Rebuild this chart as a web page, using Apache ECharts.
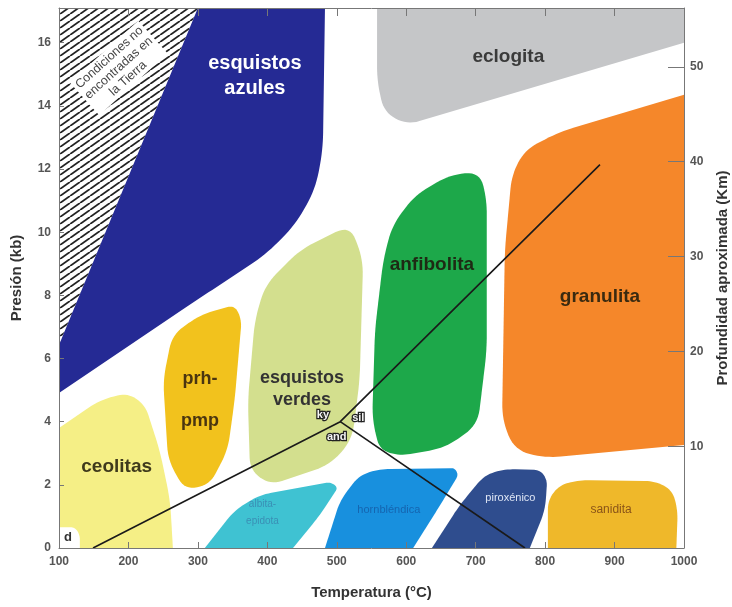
<!DOCTYPE html>
<html><head><meta charset="utf-8">
<script src="https://cdn.jsdelivr.net/npm/echarts@6/dist/echarts.min.js"></script>
<style>html,body{margin:0;padding:0;background:#fff}#c{width:732px;height:607px}</style>
</head><body><div id="c"></div>
<script>
// ---- Axis values ----
const tempMin = 100, tempMax = 1000, tempStep = 100;
const presMin = 0, presMax = 17.1, presStep = 2;
const depthMin = -0.7, depthMax = 56.2;
const depthTicks = [10, 20, 30, 40, 50];

// ---- Facies fields: vertices [T (°C), P (kb)] ----
const hatchPts = [[100,17.1],[300,17.1],[100,6.43]];
const azulesPts = [[300,17.1],[483,17.1],[480,12.6],[469,11.35],[440,10.23],[397,9.28],[299,7.86],[100,4.91],[100,6.43]];
const eclogitaPts = [[558,17.1],[1000,17.1],[1000,16.0],[601,13.4],[568,13.8],[558,14.8]];
const granulitaPts = [[1000,14.35],[821,13.18],[771,12.61],[752,11.82],[742,9.44],[738,4.06],[756,3.1],[800,2.85],[1000,3.26]];
const anfibolitaPts = [[706,11.91],[663,11.82],[613,11.18],[580,10.23],[567,9.13],[555,6.91],[551,4.06],[562,3.1],[591,2.92],[656,3.17],[703,3.9],[716,6.27],[716,11.03]];
const verdesPts = [[519,10.23],[447,9.44],[397,8.33],[382,7.22],[372,4.69],[375,2.47],[404,2.0],[490,2.63],[522,3.42],[533,5.32],[538,9.13]];
const prhPts = [[353,7.7],[303,7.38],[263,6.75],[250,5.32],[257,2.79],[281,1.84],[317,2.0],[343,3.1],[353,4.69],[363,7.22]];
const ceolitasPts = [[100,3.8],[159,4.69],[199,4.91],[224,4.53],[245,3.1],[260,1.52],[264,0],[100,0]];
const dPts = [[100,0.66],[123,0.66],[130,0.41],[130,0],[100,0]];
const albitaPts = [[310,0],[353,1.2],[389,1.68],[490,2.09],[502,1.93],[476,1.05],[437,0]];
const hornblPts = [[483,0],[505,1.52],[533,2.31],[562,2.5],[670,2.53],[675,2.31],[649,1.36],[610,0]];
const piroxPts = [[637,0],[677,1.36],[713,2.31],[742,2.5],[793,2.47],[803,2.15],[800,1.2],[778,0]];
const saniditaPts = [[804,0],[804,1.52],[821,2.0],[850,2.15],[958,2.12],[983,1.84],[991,1.2],[989,0]];

// ---- Reaction lines (Al2SiO5) ----
const kyAndSilLine = [[149,0],[505,4.0],[879,12.14]];
const silAndLine = [[505,4.0],[771,0]];

// hatch pattern
function makeHatch(){
  const c = document.createElement('canvas');
  const w = 10, h = 7; c.width = w; c.height = h;
  const g = c.getContext('2d');
  g.fillStyle = '#fff'; g.fillRect(0,0,w,h);
  g.strokeStyle = '#222'; g.lineWidth = 1.8;
  for (const dx of [-w, 0, w]) {
    g.beginPath(); g.moveTo(dx, h); g.lineTo(dx + w, 0); g.stroke();
  }
  return c;
}
const FONT = '"Liberation Sans", Arial, sans-serif';

const regions = [
  {pts: hatchPts, fill: {image: makeHatch(), repeat: 'repeat'}, r:0,
   labels: [{at:[186,15.2], text:'Condiciones no\nencontradas en\nla Tierra', color:'#444', size:12.5, weight:'normal', rot:42, bg:'#fff', lh:14}]},
  {pts: azulesPts, fill:'#252a94', r:18,
   labels: [{at:[382,14.95], text:'esquistos\nazules', color:'#fff', size:20, lh:25}]},
  {pts: eclogitaPts, fill:'#c5c6c8', r:14,
   labels: [{at:[747,15.56], text:'eclogita', color:'#3a3a3a', size:19}]},
  {pts: granulitaPts, fill:'#f5872a', r:16,
   labels: [{at:[879,7.95], text:'granulita', color:'#3a2a10', size:19}]},
  {pts: anfibolitaPts, fill:'#1da84a', r:16,
   labels: [{at:[637,8.98], text:'anfibolita', color:'#1e2a14', size:19}]},
  {pts: verdesPts, fill:'#d3df8e', r:16,
   labels: [{at:[450,5.04], text:'esquistos\nverdes', color:'#333', size:18, lh:22}]},
  {pts: prhPts, fill:'#f2c21d', r:14,
   labels: [{at:[303,4.7], text:'prh-\n\npmp', color:'#4a3510', size:18, lh:21}]},
  {pts: ceolitasPts, fill:'#f5ef86', r:16,
   labels: [{at:[183,2.57], text:'ceolitas', color:'#3f3a1c', size:19}]},
  {pts: dPts, fill:'#fff', r:6,
   labels: [{at:[113,0.35], text:'d', color:'#333', size:13}]},
  {pts: albitaPts, fill:'#3fc2d2', r:12,
   labels: [{at:[393,1.13], text:'albita-\nepidota', color:'#3a8fb5', size:10, weight:'normal', lh:17}]},
  {pts: hornblPts, fill:'#1890de', r:12,
   labels: [{at:[575,1.2], text:'hornbléndica', color:'#1565b0', size:11, weight:'normal'}]},
  {pts: piroxPts, fill:'#2f4d8e', r:12,
   labels: [{at:[750,1.6], text:'piroxénico', color:'#dfe6f5', size:11, weight:'normal'}]},
  {pts: saniditaPts, fill:'#efb82a', r:14,
   labels: [{at:[895,1.2], text:'sanidita', color:'#8a5418', size:12, weight:'normal'}]}
];

const reactionLabels = [
  {at:[480,4.21], text:'ky'},
  {at:[531,4.12], text:'sil'},
  {at:[500,3.52], text:'and'}
];

function onEdge(p){
  return p[0] <= tempMin || p[0] >= tempMax || p[1] <= presMin || p[1] >= presMax;
}
// round corners of a pixel polygon by sampling quadratic curves
function roundPoly(data, px, r){
  if (!r) return px;
  const n = px.length, out = [];
  for (let i = 0; i < n; i++){
    const p1 = px[i];
    if (onEdge(data[i])) { out.push(p1); continue; }
    const p0 = px[(i-1+n)%n], p2 = px[(i+1)%n];
    const v1 = [p0[0]-p1[0], p0[1]-p1[1]], v2 = [p2[0]-p1[0], p2[1]-p1[1]];
    const l1 = Math.hypot(v1[0],v1[1]), l2 = Math.hypot(v2[0],v2[1]);
    const rr = Math.min(r, l1/2, l2/2);
    const a = [p1[0]+v1[0]/l1*rr, p1[1]+v1[1]/l1*rr];
    const b = [p1[0]+v2[0]/l2*rr, p1[1]+v2[1]/l2*rr];
    const N = 8;
    for (let k = 0; k <= N; k++){
      const t = k/N, u = 1-t;
      out.push([u*u*a[0] + 2*u*t*p1[0] + t*t*b[0], u*u*a[1] + 2*u*t*p1[1] + t*t*b[1]]);
    }
  }
  return out;
}

function renderRegion(params, api){
  const r = regions[params.dataIndex];
  const px = r.pts.map(p => api.coord(p));
  const pts = roundPoly(r.pts, px, r.r);
  const children = [{type:'polygon', shape:{points:pts}, style:{fill:r.fill}}];
  (r.labels||[]).forEach(l => {
    const c = api.coord(l.at);
    children.push({type:'text', x:c[0], y:c[1], rotation:(l.rot||0)*Math.PI/180, z2:10,
      style:{text:l.text, fill:l.color, align:'center', verticalAlign:'middle',
        font:(l.weight||'bold')+' '+l.size+'px '+FONT, lineHeight:l.lh||l.size+2,
        backgroundColor:l.bg||null, padding:l.bg?[1,3]:0}});
  });
  return {type:'group', children};
}
function renderReact(params, api){
  const l = reactionLabels[params.dataIndex];
  const c = api.coord(l.at);
  return {type:'text', x:c[0], y:c[1], style:{text:l.text, fill:'#f4f4f4', stroke:'#222', lineWidth:2.5,
    align:'center', verticalAlign:'middle', font:'bold 11px '+FONT}};
}

const chart = echarts.init(document.getElementById('c'), null, {renderer:'canvas'});
const axisLineStyle = {color:'#777', width:1};
chart.setOption({
  animation:false,
  backgroundColor:'#fff',
  grid:{left:59, right:48, top:8, bottom:59, show:false, containLabel:false, outerBoundsMode:'none'},
  xAxis:[
    {type:'value', min:tempMin, max:tempMax, interval:tempStep, position:'bottom', z:10,
     name:'Temperatura (°C)', nameLocation:'middle', nameGap:37,
     nameTextStyle:{fontFamily:FONT, fontWeight:'bold', fontSize:15, color:'#333'},
     axisLine:{show:true, onZero:false, lineStyle:axisLineStyle}, axisTick:{show:true, inside:true, length:6, lineStyle:axisLineStyle},
     axisLabel:{fontFamily:FONT, fontWeight:'bold', fontSize:12, color:'#555', margin:8, formatter:v => String(v)},
     splitLine:{show:false}},
    {type:'value', min:tempMin, max:tempMax, interval:tempStep, position:'top', z:10,
     axisLine:{show:true, onZero:false, lineStyle:axisLineStyle}, axisTick:{show:true, inside:true, length:8, lineStyle:axisLineStyle},
     axisLabel:{show:false}, splitLine:{show:false}}
  ],
  yAxis:[
    {type:'value', min:presMin, max:presMax, interval:presStep, position:'left', z:10,
     name:'Presión (kb)', nameLocation:'middle', nameGap:35,
     nameTextStyle:{fontFamily:FONT, fontWeight:'bold', fontSize:15, color:'#333'},
     axisLine:{show:true, onZero:false, lineStyle:axisLineStyle}, axisTick:{show:true, inside:true, length:5, lineStyle:axisLineStyle},
     axisLabel:{fontFamily:FONT, fontWeight:'bold', fontSize:12, color:'#555', margin:8, showMaxLabel:false},
     splitLine:{show:false}},
    {type:'value', min:depthMin, max:depthMax, position:'right', z:10,
     name:'Profundidad aproximada (Km)', nameLocation:'middle', nameGap:31,
     nameTextStyle:{fontFamily:FONT, fontWeight:'bold', fontSize:15, color:'#333'},
     axisLine:{show:true, onZero:false, lineStyle:axisLineStyle},
     axisTick:{show:true, inside:true, length:16, customValues:depthTicks, lineStyle:axisLineStyle},
     axisLabel:{fontFamily:FONT, fontWeight:'bold', fontSize:12, color:'#555', margin:6, customValues:depthTicks},
     splitLine:{show:false}}
  ],
  series:[
    {type:'custom', coordinateSystem:'cartesian2d', xAxisIndex:0, yAxisIndex:0, renderItem:renderRegion,
     data: regions.map(r => r.pts[0]), z:2, silent:true},
    {type:'line', xAxisIndex:0, yAxisIndex:0, data:kyAndSilLine, symbol:'none', z:5,
     lineStyle:{color:'#1a1a1a', width:1.6}},
    {type:'line', xAxisIndex:0, yAxisIndex:0, data:silAndLine, symbol:'none', z:5,
     lineStyle:{color:'#1a1a1a', width:1.6}},
    {type:'custom', coordinateSystem:'cartesian2d', xAxisIndex:0, yAxisIndex:0, renderItem:renderReact,
     data: reactionLabels.map(l => l.at), z:6, silent:true}
  ]
});
</script>
</body></html>
